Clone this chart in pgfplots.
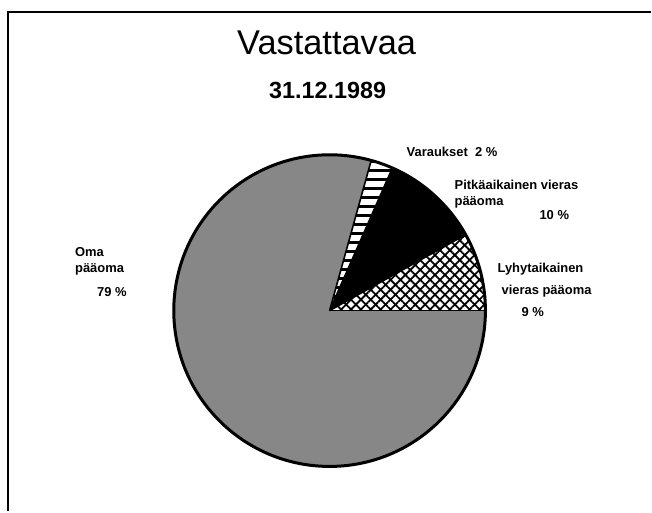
\documentclass[border=0pt]{standalone}
\usepackage{pgfplots}
\pgfplotsset{compat=1.18}
\usepackage{fontspec}
\setmainfont{Liberation Sans}
\usetikzlibrary{patterns.meta}
\begin{document}
\begin{tikzpicture}
% shares of the pie (per cent), counter-clockwise from 3 o'clock
\def\pLyhyt{8.1}
\def\pPitka{10.3}
\def\pVar{2.3}
\def\pOma{79.3}
\pgfmathsetmacro\aA{3.6*\pLyhyt}
\pgfmathsetmacro\aB{\aA+3.6*\pPitka}
\pgfmathsetmacro\aC{\aB+3.6*\pVar}
\def\R{156bp}
\begin{axis}[x=1bp,y=1bp,xmin=0,xmax=652,ymin=0,ymax=512,
  hide axis,clip=false,scale only axis]
\path (axis cs:0,0) rectangle (axis cs:652,512);
% frame
\draw[line width=1.6bp] (axis cs:8,0) -- (axis cs:8,500) -- (axis cs:652,500);
% Oma paaoma
\fill[black!47] (axis cs:330,201) -- ++(\aC:\R) arc[start angle=\aC,end angle=360,radius=\R] -- cycle;
% Varaukset
\fill[white] (axis cs:330,201) -- ++(\aB:\R) arc[start angle=\aB,end angle=\aC,radius=\R] -- cycle;
\fill[pattern={Lines[angle=0,distance=9bp,line width=3.5bp]}] (axis cs:330,201) -- ++(\aB:\R) arc[start angle=\aB,end angle=\aC,radius=\R] -- cycle;
% Pitkaaikainen
\fill[black] (axis cs:330,201) -- ++(\aA:\R) arc[start angle=\aA,end angle=\aB,radius=\R] -- cycle;
% Lyhytaikainen
\fill[white] (axis cs:330,201) -- ++(0:\R) arc[start angle=0,end angle=\aA,radius=\R] -- cycle;
\fill[pattern={Lines[angle=45,distance=7bp,line width=1.8bp]}] (axis cs:330,201) -- ++(0:\R) arc[start angle=0,end angle=\aA,radius=\R] -- cycle;
\fill[pattern={Lines[angle=-45,distance=7bp,line width=1.8bp]}] (axis cs:330,201) -- ++(0:\R) arc[start angle=0,end angle=\aA,radius=\R] -- cycle;
% edges
\draw[line width=1.6bp] (axis cs:330,201) -- ++(0:\R);
\draw[line width=1.6bp] (axis cs:330,201) -- ++(\aA:\R);
\draw[line width=1.6bp] (axis cs:330,201) -- ++(\aB:\R);
\draw[line width=1.6bp] (axis cs:330,201) -- ++(\aC:\R);
\draw[line width=3bp] (axis cs:330,201) circle[radius=\R];
% titles
\node[anchor=base,inner sep=0pt,font=\fontsize{34.5}{40}\selectfont] at (axis cs:327,457) {Vastattavaa};
\node[anchor=base,inner sep=0pt,font=\bfseries\fontsize{23.5}{28}\selectfont] at (axis cs:328,413) {31.12.1989};
% labels
\tikzset{lab/.style={anchor=base west,inner sep=0pt,font=\bfseries\fontsize{13}{16}\selectfont}}
\node[lab] at (axis cs:75,255) {Oma};
\node[lab] at (axis cs:75,239) {pääoma};
\node[lab] at (axis cs:97,215) {79 \%};
\node[lab] at (axis cs:407,355) {Varaukset\ \ 2 \%};
\node[lab] at (axis cs:455,322) {Pitkäaikainen vieras};
\node[lab] at (axis cs:455,306) {pääoma};
\node[lab] at (axis cs:540,292) {10 \%};
\node[lab] at (axis cs:498,239) {Lyhytaikainen};
\node[lab] at (axis cs:502,217) {vieras pääoma};
\node[lab] at (axis cs:522,195) {9 \%};
\end{axis}
\end{tikzpicture}
\end{document}
